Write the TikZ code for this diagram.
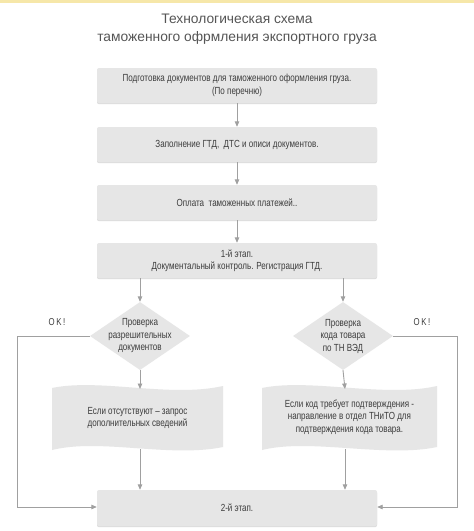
\documentclass[tikz,border=0pt]{standalone}
\usepackage{fontspec}
\setmainfont{Liberation Sans}
\newfontfamily\condf[FakeStretch=0.78]{Liberation Sans}
\usetikzlibrary{shapes.geometric,arrows.meta,shadows}
\definecolor{boxfill}{HTML}{E6E6E6}
\definecolor{txt}{HTML}{3C3C3C}
\definecolor{ttl}{HTML}{555555}
\definecolor{lin}{HTML}{A0A0A0}
\definecolor{topstrip}{HTML}{F6E7A9}
\tikzset{
  stepbox/.style={rectangle, rounded corners=2pt, fill=boxfill, minimum width=280pt, minimum height=35pt, inner sep=0pt, text=txt, font=\condf\fontsize{10.3}{12.5}\selectfont, align=center, drop shadow={shadow xshift=0pt, shadow yshift=-1.2pt, fill=black!22, opacity=0.6}},
  decbox/.style={diamond, fill=boxfill, minimum width=100pt, minimum height=68pt, inner sep=0pt},
  dectext/.style={text=txt, font=\condf\fontsize{10.3}{12.5}\selectfont, align=center, inner sep=0pt},
  tapebox/.style={rectangle, inner sep=0pt, text=txt, font=\condf\fontsize{10.3}{12.5}\selectfont, align=center},
  conn/.style={draw=lin, line width=0.9pt, -{Triangle[length=5.5pt,width=4.5pt]}},
  oklab/.style={text=txt, font=\condf\fontsize{10}{12}\selectfont},
}
\begin{document}
\begin{tikzpicture}[x=1pt,y=-1pt]
\useasboundingbox (0,0) rectangle (474,531);
\fill[white] (0,0) rectangle (474,531);
\fill[topstrip] (0,0) rectangle (474,2.5);
\node[text=ttl, font=\fontsize{13.8}{18.5}\selectfont, align=center] (title) at (237,29) {Технологическая схема\\таможенного офрмления экспортного груза};

\node[stepbox] (b1) at (237,85.5) {Подготовка документов для таможенного оформления груза.\\(По перечню)};
\node[stepbox] (b2) at (237,144.5) {Заполнение ГТД,\ \ ДТС и описи документов.};
\node[stepbox] (b3) at (237,202.5) {Оплата\ \ таможенных платежей..};
\node[stepbox] (b4) at (237,260.5) {1-й этап.\\Документальный контроль. Регистрация ГТД.};
\node[stepbox, minimum height=36pt] (b5) at (237,508) {2-й этап.};

\node[decbox] (d1) at (140,336) {};
\node[dectext] (d1t) at (d1.center) {Проверка\\разрешительных\\документов};
\node[decbox] (d2) at (343,336) {};
\node[dectext] (d2t) at (d2.center) {Проверка\\кода товара\\по ТН ВЭД};

% tape shapes
\fill[boxfill] (52,388) .. controls (100,378) and (170,398) .. (223,386) -- (223,447) .. controls (170,458) and (100,438) .. (52,450) -- cycle;
\node[tapebox] (t1) at (137.5,418) {Если отсутствуют – запрос\\дополнительных сведений};
\fill[boxfill] (262,388) .. controls (310,378) and (385,398) .. (437,386) -- (437,447) .. controls (385,458) and (310,438) .. (262,450) -- cycle;
\node[tapebox] (t2) at (349.5,417) {Если код требует подтверждения -\\направление в отдел ТНиТО для\\подтверждения кода товара.};
\coordinate (t1top) at (140,389);
\coordinate (t1bot) at (140,449);
\coordinate (t2top) at (345,389);
\coordinate (t2bot) at (345,449);
\coordinate (lc) at (17,336);
\coordinate (rc) at (457,336);
\coordinate (lb) at (17,507);
\coordinate (rb) at (457,507);

\draw[conn] (b1) -- (b2);
\draw[conn] (b2) -- (b3);
\draw[conn] (b3) -- (b4);
\draw[conn] (b4.south -| d1.north) -- (d1.north);
\draw[conn] (b4.south -| d2.north) -- (d2.north);
\draw[conn] (d1.south) -- (t1top);
\draw[conn] (d2.south) -- (t2top);
\draw[conn] (t1bot) -- (b5.north -| t1bot);
\draw[conn] (t2bot) -- (b5.north -| t2bot);
\draw[conn] (d1.west) -- (lc) -- (lb) -- (b5.west |- lb);
\draw[conn] (d2.east) -- (rc) -- (rb) -- (b5.east |- rb);
\node[oklab] (ok1) at (57,322) {O\,K\,!};
\node[oklab] (ok2) at (422,322) {O\,K\,!};
\end{tikzpicture}
\end{document}
